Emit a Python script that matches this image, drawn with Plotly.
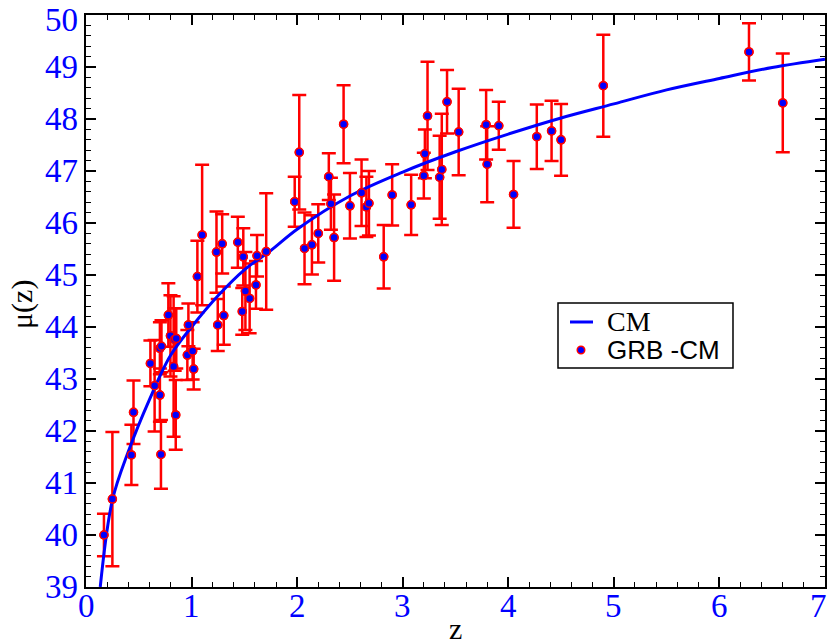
import plotly.graph_objects as go

# GRB data points: redshift, distance modulus, symmetric error
z_grb = [0.17, 0.25, 0.43, 0.45, 0.61, 0.65, 0.70, 0.71, 0.70, 0.715,
         0.78, 0.80, 0.84, 0.855, 0.83, 0.85, 0.96, 0.97, 1.01, 1.02,
         1.055, 1.10, 1.236, 1.248, 1.29, 1.305, 1.438, 1.48, 1.49, 1.51,
         1.55, 1.61, 1.62, 1.707, 1.977, 2.02, 2.07, 2.14, 2.20, 2.30,
         2.32, 2.35, 2.44, 2.50, 2.61, 2.656, 2.68, 2.82, 2.90, 3.08,
         3.20, 3.21, 3.235, 3.35, 3.37, 3.42, 3.53, 3.79, 3.80, 3.91,
         4.05, 4.27, 4.41, 4.50, 4.90, 6.28, 6.60]
mu_grb = [40.00, 40.69, 41.54, 42.36, 43.30, 42.87, 42.69, 41.55, 43.59, 43.63,
          44.23, 43.83, 43.76, 43.78, 43.24, 42.31, 43.46, 44.04, 43.54, 43.19,
          44.97, 45.77, 45.44, 44.04, 45.60, 44.22, 45.63, 44.30, 45.35, 44.69,
          44.55, 44.81, 45.37, 45.45, 46.41, 47.36, 45.51, 45.58, 45.80, 46.89,
          46.37, 45.72, 47.90, 46.33, 46.58, 46.31, 46.38, 45.35, 46.54, 46.35,
          46.91, 47.33, 48.06, 46.88, 47.03, 48.33, 47.75, 47.89, 47.13, 47.87,
          46.55, 47.66, 47.77, 47.60, 48.64, 49.29, 48.31]
err_grb = [0.41, 1.29, 0.58, 0.61, 0.44, 0.88, 0.51, 0.66, 0.50, 0.50,
           0.61, 0.78, 0.60, 0.58, 1.35, 0.67, 0.48, 0.41, 0.55, 0.39,
           0.69, 1.35, 0.78, 0.50, 0.57, 0.56, 0.49, 0.45, 0.55, 0.75,
           0.67, 0.46, 0.40, 1.12, 0.48, 1.10, 0.69, 0.57, 0.56, 0.45,
           0.50, 0.83, 0.75, 0.63, 0.64, 0.58, 0.62, 0.61, 0.59, 0.58,
           0.44, 0.47, 1.04, 0.80, 1.07, 0.61, 0.83, 0.67, 0.73, 0.46,
           0.64, 0.62, 0.58, 0.69, 0.98, 0.55, 0.95]

# CM model curve
z_cm = [0.135, 0.25, 0.40, 0.60, 0.80, 1.00, 1.25, 1.50, 1.75, 2.00,
        2.50, 3.00, 3.50, 4.00, 4.50, 5.00, 5.50, 6.00, 6.50, 7.00]
mu_cm = [39.00, 40.67, 41.60, 42.60, 43.45, 44.00, 44.60, 45.10, 45.47, 45.88,
         46.52, 46.98, 47.37, 47.71, 48.02, 48.29, 48.56, 48.78, 48.99, 49.15]

x_ticks = [0, 1, 2, 3, 4, 5, 6, 7]
y_ticks = [39, 40, 41, 42, 43, 44, 45, 46, 47, 48, 49, 50]
legend_names = ["CM", "GRB -CM"]

TICK_SIZE = 33


def styled(s, family):
    return "<span style='font-family:%s'>%s</span>" % (family, s)


def serif(s):
    return styled(s, "Liberation Serif")


def sans(s):
    return styled(s, "Liberation Sans")


fig = go.Figure()

# error bars (drawn below the curve)
fig.add_trace(go.Scatter(
    x=z_grb, y=mu_grb, mode="markers",
    marker=dict(size=8, color="blue", line=dict(color="red", width=1.5)),
    error_y=dict(type="data", array=err_grb, visible=True,
                 color="red", thickness=2.5, width=7),
    showlegend=False, hoverinfo="skip"))

# model curve
fig.add_trace(go.Scatter(
    x=z_cm, y=mu_cm, mode="lines", line=dict(color="blue", width=3, shape="spline"),
    name=legend_names[0], showlegend=False))

# markers on top
fig.add_trace(go.Scatter(
    x=z_grb, y=mu_grb, mode="markers",
    marker=dict(size=8, color="blue", line=dict(color="red", width=1.5)),
    name=legend_names[1], showlegend=False))

axis_common = dict(
    showline=True, linecolor="black", linewidth=1.5, mirror="ticks",
    ticks="inside", ticklen=10, tickwidth=1.5, tickcolor="black",
    showgrid=False, zeroline=False, automargin=False, showticklabels=False,
)
minor = dict(dtick=0.2, ticks="inside", ticklen=5, tickcolor="black", tickwidth=1)

fig.update_xaxes(range=[0, 7], tickvals=x_ticks, minor=minor, **axis_common)
fig.update_yaxes(range=[39, 50], tickvals=y_ticks, minor=minor, **axis_common)

annotations = []
# tick labels, placed at the axis values (the outermost ones kept inside the page)
for v in x_ticks:
    last = v == x_ticks[-1]
    annotations.append(dict(x=v, xref="x", y=0, yref="paper", yanchor="top",
                            xanchor="right" if last else "center", xshift=4 if last else 0,
                            yshift=1, text=serif(v), showarrow=False,
                            font=dict(size=TICK_SIZE, color="blue")))
for v in y_ticks:
    top = v == y_ticks[-1]
    annotations.append(dict(x=0, xref="paper", y=v, yref="y", xanchor="right",
                            yanchor="top" if top else "middle", yshift=15 if top else 0,
                            xshift=-6, text=serif(v), showarrow=False,
                            font=dict(size=TICK_SIZE, color="blue")))
# axis titles
annotations.append(dict(x=0.5, xref="paper", y=-0.072, yref="paper", xanchor="center",
                        yanchor="middle", text=serif("z"), showarrow=False,
                        font=dict(size=30, color="black")))
annotations.append(dict(x=-0.0866, xref="paper", y=0.493, yref="paper", xanchor="center",
                        yanchor="middle", text=serif("μ(z)"), textangle=-90, showarrow=False,
                        font=dict(size=30, color="black")))
# legend texts
annotations.append(dict(x=0.7024, xref="paper", y=0.4633, yref="paper", xanchor="left",
                        yanchor="middle", text=serif(legend_names[0]), showarrow=False,
                        font=dict(size=28, color="black")))
annotations.append(dict(x=0.7024, xref="paper", y=0.4143, yref="paper", xanchor="left",
                        yanchor="middle", text=sans(legend_names[1]), showarrow=False,
                        font=dict(size=26, color="black")))

shapes = [
    # legend box
    dict(type="rect", xref="paper", yref="paper", x0=0.6387, x1=0.8755, y0=0.3829, y1=0.4965,
         line=dict(color="black", width=1.5), fillcolor="white", layer="above"),
    # legend line sample
    dict(type="line", xref="paper", yref="paper", x0=0.6549, x1=0.6861, y0=0.4633, y1=0.4633,
         line=dict(color="blue", width=3), layer="above"),
    # legend marker sample
    dict(type="circle", xref="paper", yref="paper", x0=0.6698 - 0.0051, x1=0.6698 + 0.0051,
         y0=0.4143 - 0.0066, y1=0.4143 + 0.0066,
         line=dict(color="red", width=1.5), fillcolor="blue", layer="above"),
]

fig.update_layout(
    width=829, height=644,
    margin=dict(l=86, r=4, t=15, b=57),
    plot_bgcolor="white", paper_bgcolor="white",
    showlegend=False,
    annotations=annotations,
    shapes=shapes,
)

# remove the default page margin so the figure sits at the window's top-left corner
fig.write_html("out.html",
               config={"displayModeBar": False},
               post_script="document.body.style.margin='0';document.body.style.overflow='hidden';")
